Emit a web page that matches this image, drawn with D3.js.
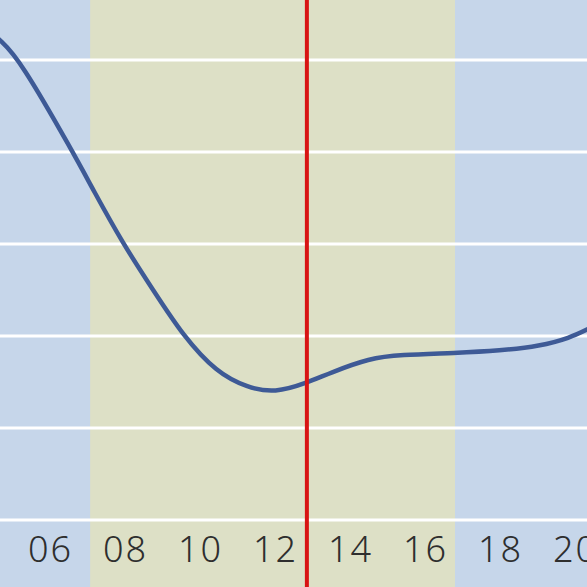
<!DOCTYPE html>
<html>
<head>
<meta charset="utf-8">
<script src="https://cdn.jsdelivr.net/npm/d3@7"></script>
<style>
  html, body { margin: 0; padding: 0; background: #c6d6ea; }
  svg { display: block; }
</style>
</head>
<body>
<div class="chart"></div>
<script>
var svgWidth = 587;
var svgHeight = 587;

// hours of the day and the value of the curve at each
var hours = [4.4, 4.67, 5.2, 6.61, 7.15, 7.95, 8.75, 9.55, 10.45, 11.25, 12.0,
    12.85, 13.47, 14.53, 15.33, 16.8, 18.0, 19.07, 19.87, 20.32, 20.67];
var values = [5.3, 5.22, 5.0, 4.0, 3.59, 3.0, 2.5, 2.0, 1.6, 1.44, 1.38,
    1.49, 1.6, 1.76, 1.795, 1.815, 1.84, 1.89, 1.98, 2.07, 2.14];

// x tick labels
var tickHours = [6, 8, 10, 12, 14, 16, 18, 20];
var tickLabels = ["06", "08", "10", "12", "14", "16", "18", "20"];

// horizontal grid levels
var gridLevels = [0, 1, 2, 3, 4, 5, 6];

// daytime band and current time marker
var bandHours = [7.07, 16.8];
var nowHour = 12.85;

var svg = d3.select(".chart")
    .append("svg")
    .attr("width", svgWidth)
    .attr("height", svgHeight);

// hour 6 sits at 50px, 37.5px per hour
var xScale = d3.scaleLinear()
    .domain([6 - 50 / 37.5, 6 + 537 / 37.5])
    .range([0, svgWidth]);

var yScale = d3.scaleLinear()
    .domain([0, 5])
    .range([520, 60]);

// background
svg.append("rect")
    .attr("width", svgWidth)
    .attr("height", svgHeight)
    .attr("fill", "#c6d6ea");

svg.append("rect")
    .attr("x", xScale(bandHours[0]))
    .attr("y", 0)
    .attr("width", xScale(bandHours[1]) - xScale(bandHours[0]))
    .attr("height", svgHeight)
    .attr("fill", "#dde0c6");

// grid lines
svg.append("g")
    .selectAll("line")
    .data(gridLevels)
    .enter()
    .append("line")
    .attr("x1", 0)
    .attr("x2", svgWidth)
    .attr("y1", d => yScale(d))
    .attr("y2", d => yScale(d))
    .attr("stroke", "#ffffff")
    .attr("stroke-width", 3);

// x labels from an axis without line or ticks
var bottomAxis = d3.axisBottom(xScale)
    .tickValues(tickHours)
    .tickFormat((d, i) => tickLabels[i])
    .tickSize(0)
    .tickPadding(0);

var xAxis = svg.append("g")
    .attr("transform", "translate(0, 536)")
    .call(bottomAxis);

xAxis.select(".domain").remove();
xAxis.selectAll("text")
    .attr("dy", "0.71em")
    .attr("font-family", "'Noto Sans', sans-serif")
    .attr("font-weight", 300)
    .attr("font-size", "36px")
    .attr("letter-spacing", "2px")
    .attr("fill", "#2e2e2e");

// the curve, smoothed
var line = d3.line()
    .x((d, i) => xScale(hours[i]))
    .y(d => yScale(d))
    .curve(d3.curveBasis);

svg.append("path")
    .datum(values)
    .attr("d", line)
    .attr("fill", "none")
    .attr("stroke", "#3e5a96")
    .attr("stroke-width", 4.5)
    .attr("stroke-linecap", "round");

// current time marker
svg.append("line")
    .attr("x1", xScale(nowHour))
    .attr("x2", xScale(nowHour))
    .attr("y1", 0)
    .attr("y2", svgHeight)
    .attr("stroke", "#d81414")
    .attr("stroke-width", 4);
</script>
</body>
</html>
